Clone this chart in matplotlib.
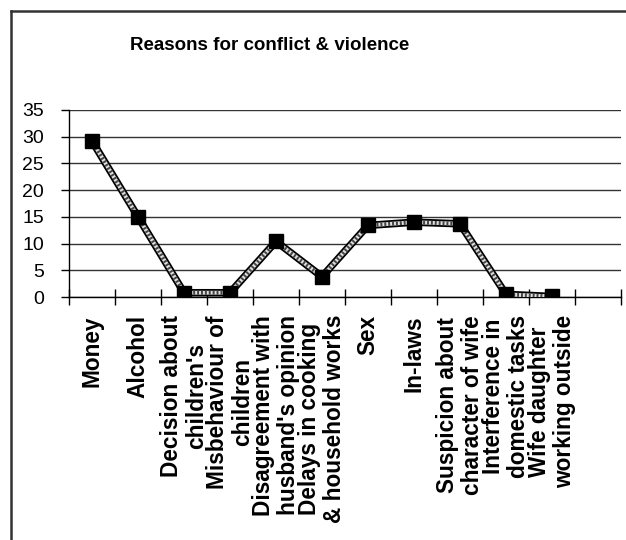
import matplotlib
matplotlib.use("Agg")
import matplotlib.pyplot as plt
from matplotlib.lines import Line2D
import numpy as np

plt.rcParams['font.family'] = ['Liberation Sans', 'DejaVu Sans']

reasons = [
    "Money",
    "Alcohol",
    "Decision about\nchildren's",
    "Misbehaviour of\nchildren",
    "Disagreement with\nhusband's opinion",
    "Delays in cooking\n& household works",
    "Sex",
    "In-laws",
    "Suspicion about\ncharacter of wife",
    "Interference in\ndomestic tasks",
    "Wife daughter\nworking outside",
]
percent = [29.2, 15.0, 0.8, 0.8, 10.4, 3.8, 13.4, 14.0, 13.7, 0.5, 0.1]
y_ticks = [0, 5, 10, 15, 20, 25, 30, 35]
n_slots = 12  # category axis has one spare slot at the end

fig = plt.figure(figsize=(6.26, 5.40), dpi=100)
ax = fig.add_axes([69 / 626, 1 - 297 / 540, (621 - 69) / 626, (297 - 110) / 540])

x = np.arange(len(percent)) + 0.5

# patterned thick line: black casing, light core, dotted texture
ax.plot(x, percent, color="black", lw=5.4, solid_joinstyle="miter", zorder=3)
ax.plot(x, percent, color="#e0e0e0", lw=2.8, zorder=4)
ax.plot(x, percent, color="#444444", lw=2.8, linestyle=(0, (0.5, 0.5)), zorder=5)
ax.plot(x, percent, linestyle="none", marker="s", markersize=9.5,
        markerfacecolor="black", markeredgecolor="black", zorder=6)

ax.set_xlim(0, n_slots)
ax.set_ylim(0, 35)
ax.set_yticks(y_ticks)
ax.set_yticklabels([str(v) for v in y_ticks], fontsize=14)
ax.yaxis.grid(True, color="#333333", lw=1.0)
ax.set_axisbelow(True)

# category labels centred in slots, tick marks on slot boundaries
ax.set_xticks(x)
ax.set_xticklabels(reasons, rotation=90, fontsize=16.3, fontweight="bold",
                   multialignment="center", va="top", ha="center",
                   linespacing=1.15)
ax.tick_params(axis="x", which="major", length=0, pad=13)
ax.set_xticks(np.arange(n_slots + 1), minor=True)
ax.tick_params(axis="x", which="minor", direction="inout", length=12,
               width=1.0, color="black")
ax.tick_params(axis="y", direction="out", length=6, width=1.0, pad=12,
               color="black")

for side in ("top", "right"):
    ax.spines[side].set_visible(False)
ax.spines["left"].set_color("black")
ax.spines["bottom"].set_color("black")
ax.spines["left"].set_linewidth(1.0)
ax.spines["bottom"].set_linewidth(1.0)

fig.text(270 / 626, 1 - 45 / 540, "Reasons for conflict & violence",
         ha="center", va="center", fontsize=13.5, fontweight="bold")

# chart-area frame (left and top edges)
fig.add_artist(Line2D([10.5 / 626, 10.5 / 626], [0, 1 - 11 / 540],
                      transform=fig.transFigure, color="#333333", lw=1.8))
fig.add_artist(Line2D([10.5 / 626, 1], [1 - 11 / 540, 1 - 11 / 540],
                      transform=fig.transFigure, color="#333333", lw=1.8))

fig.savefig("out.png", dpi=100, facecolor="white")
